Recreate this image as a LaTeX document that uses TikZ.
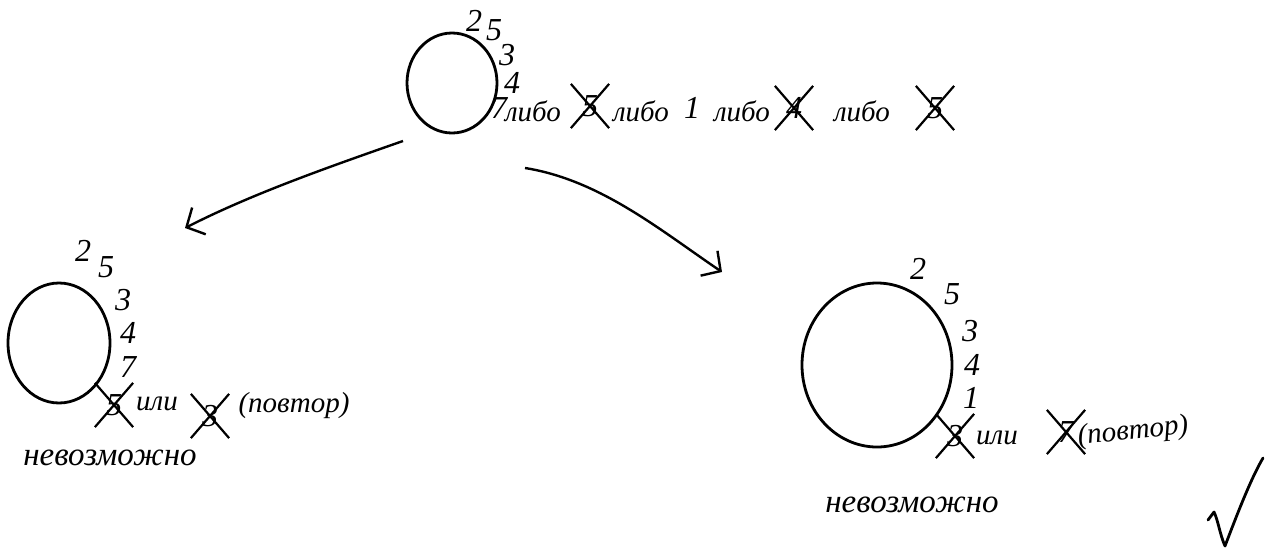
\documentclass[tikz,border=0pt]{standalone}
\usepackage{fontspec}
\setmainfont{Liberation Serif}
\usetikzlibrary{shapes.geometric,shapes.misc,arrows.meta}
\tikzset{
  ring/.style={draw, ellipse, line width=2.8pt, inner sep=0pt},
  dig/.style={font=\itshape\fontsize{32}{32}\selectfont, inner sep=0pt},
  word/.style={font=\itshape\fontsize{29}{29}\selectfont, inner sep=0pt},
  big/.style={font=\itshape\fontsize{33}{33}\selectfont, inner sep=0pt},
  xd/.style={dig, cross out, draw, line width=2.2pt, minimum width=36pt, minimum height=42pt},
  link/.style={line width=2.4pt, -{Straight Barb[length=14pt, width=30pt, line width=2.4pt]}},
  pen/.style={line width=2.8pt, line cap=round, line join=round}
}
\begin{document}
\begin{tikzpicture}[x=1pt, y=-1pt]
\useasboundingbox (0,0) rectangle (1266,549);

% root: chosen digits 2 5 3 4 and the options for the next one
\node[ring, minimum width=90pt, minimum height=100pt] (root) at (452,83) {};
\node[dig] (r2) at (474,21) {2};
\node[dig] (r5) at (494,30) {5};
\node[dig] (r3) at (507,55) {3};
\node[dig] (r4) at (512,83) {4};
\node[dig] (r7) at (499,108) {7};
\node[word] (ra) at (533,111) {либо};
\node[xd] (rx5) at (590,106) {5};
\node[word] (rb) at (641,111) {либо};
\node[dig] (r1) at (692,108) {1};
\node[word] (rc) at (742,111) {либо};
\node[xd] (rx4) at (794,108) {4};
\node[word] (rd) at (862,111) {либо};
\node[xd] (rx5b) at (935,108) {5};

% left branch: next digit 7
\node[ring, minimum width=102pt, minimum height=120pt] (left) at (59,343) {};
\node[dig] (l2) at (83,251) {2};
\node[dig] (l5) at (106,267) {5};
\node[dig] (l3) at (123,300) {3};
\node[dig] (l4) at (128,333) {4};
\node[dig] (l7) at (128,367) {7};
\node[xd] (lx5) at (114,405) {5};
\node[word] (lor) at (157,404) {или};
\node[xd] (lx3) at (210,416) {3};
\node[word] (lrep) at (294,406) {(повтор)};
\node[big] (lno) at (110,458) {невозможно};

% right branch: next digit 1
\node[ring, minimum width=150pt, minimum height=164pt] (right) at (877,365) {};
\node[dig] (q2) at (918,269) {2};
\node[dig] (q5) at (952,294) {5};
\node[dig] (q3) at (970,331) {3};
\node[dig] (q4) at (972,365) {4};
\node[dig] (q1) at (971,398) {1};
\node[xd] (qx3) at (955,436) {3};
\node[word] (qor) at (997,438) {или};
\node[xd] (qx7) at (1066,432) {7};
\node[word, rotate=6] (qrep) at (1133,432) {(повтор)};
\node[big] (qno) at (912,505) {невозможно};

% branches
\coordinate (la) at (403,141);
\coordinate (lb) at (185,228);
\coordinate (ra0) at (525,168);
\coordinate (rb0) at (722,272);
\draw[link] (la) .. controls (320,170) and (250,195) .. (lb);
\draw[link] (ra0) .. controls (600,180) and (660,230) .. (rb0);

% check mark
\coordinate (c0) at (1208,520);
\coordinate (c1) at (1214,512);
\coordinate (c2) at (1225,546);
\coordinate (c3) at (1263,458);
\draw[pen] (c0) -- (c1) .. controls (1218,520) and (1220,535) .. (c2)
  .. controls (1235,520) and (1250,480) .. (c3);
\end{tikzpicture}
\end{document}
